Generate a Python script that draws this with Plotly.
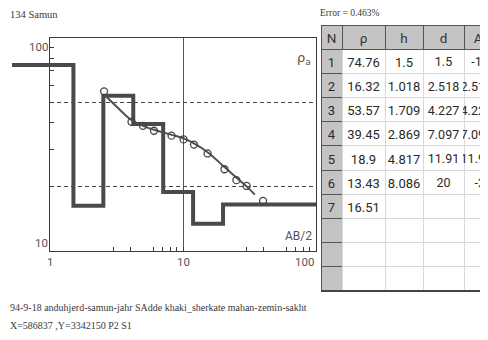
import math
import plotly.graph_objects as go

# ---------------- data ----------------
layer_n = [1, 2, 3, 4, 5, 6, 7]
layer_rho = [74.76, 16.32, 53.57, 39.45, 18.9, 13.43, 16.51]
layer_h = [1.5, 1.018, 1.709, 2.869, 4.817, 8.086]
layer_d = [1.5, 2.518, 4.227, 7.097, 11.91, 20]

obs_ab2 = [2.55, 4.1, 5.0, 6.05, 8.2, 10.1, 12.1, 15.3, 20.5, 25.2, 30.1, 40.0]
obs_rho = [56.2, 40.4, 38.7, 36.7, 34.8, 33.4, 31.6, 28.7, 24.2, 21.5, 20.2, 17.2]

fit_ab2 = [2.59, 3.25, 4.06, 5.0, 6.05, 8.12, 10.2, 12.1, 15.4, 20.6, 25.4, 30.3, 34.7]
fit_rho = [53.9, 46.9, 41.3, 38.7, 37.1, 35.2, 33.7, 32.0, 29.0, 24.7, 22.0, 20.0, 18.4]

x_labels = ["1", "10", "100"]
y_labels = ["10", "100"]
error_text = "Error = 0.463%"
title_text = "134 Samun"
foot1 = "94-9-18 anduhjerd-samun-jahr SAdde khaki_sherkate mahan-zemin-sakht"
foot2 = "X=586837 ,Y=3342150 P2 S1"

# ---------------- layout helpers ----------------
# the page body adds an 8px offset; the table's last column runs past the window edge
W, H = 492, 332
ML, MR, MT, MB = 4, 0, 17, 49
PW, PH = W - ML - MR, H - MT - MB


def px(x):
    """reference-picture x pixel -> paper fraction"""
    return (x - 8 - ML) / PW


def py(y):
    """reference-picture y pixel -> paper fraction"""
    return (H - MB - (y - 8)) / PH


NUMF = "Roboto, Liberation Sans, sans-serif"
SERIF = "Liberation Serif, Times New Roman, DejaVu Serif, serif"
INK = "#3a3a3a"

main_dom = [px(50), px(316)]
left_dom = [0, px(50)]
y_dom = [py(251), py(38)]

fig = go.Figure()

# step model (main part)
step_x = [1] + layer_d + [100]
step_y = layer_rho + [layer_rho[-1]]
fig.add_trace(go.Scatter(x=step_x, y=step_y, mode="lines", line_shape="hv",
                         line=dict(color="#4a4a4a", width=4), hoverinfo="skip",
                         xaxis="x", yaxis="y", showlegend=False))
# step model first layer extending left of the frame
fig.add_trace(go.Scatter(x=[0.1, 1], y=[layer_rho[0], layer_rho[0]], mode="lines",
                         line=dict(color="#4a4a4a", width=4), hoverinfo="skip",
                         xaxis="x2", yaxis="y2", showlegend=False))
# fitted curve
fig.add_trace(go.Scatter(x=fit_ab2, y=fit_rho, mode="lines", line_shape="spline",
                         line=dict(color="#505050", width=2), hoverinfo="skip",
                         showlegend=False))
# observed points
fig.add_trace(go.Scatter(x=obs_ab2, y=obs_rho, mode="markers",
                         marker=dict(symbol="circle-open", size=7,
                                     color="#444", line=dict(width=1.3)),
                         showlegend=False))

minor_x = [3, 4, 6, 7, 8, 9, 30, 40, 60, 70, 80, 90]
fig.update_layout(
    width=W, height=H,
    margin=dict(l=ML, r=MR, t=MT, b=MB, pad=0),
    paper_bgcolor="white", plot_bgcolor="white",
    showlegend=False,
    xaxis=dict(type="log", range=[0, 2], domain=main_dom, anchor="y",
               tickvals=[1, 10, 100], showticklabels=False,
               ticks="inside", ticklen=4, tickcolor=INK,
               showgrid=True, gridcolor="#555", gridwidth=1,
               showline=True, linecolor=INK, linewidth=1, mirror=True,
               zeroline=False,
               minor=dict(tickvals=minor_x, ticks="inside", ticklen=4,
                          tickcolor=INK, showgrid=False)),
    xaxis3=dict(type="log", range=[0, 2], domain=main_dom, anchor="y",
                overlaying="x", side="bottom",
                tickvals=[2, 5, 20, 50], showticklabels=False,
                ticks="inside", ticklen=7, tickcolor=INK,
                showgrid=True, gridcolor="#444", gridwidth=1, griddash="4px,3px",
                showline=False, zeroline=False),
    yaxis=dict(type="log", range=[1, 2], domain=y_dom, anchor="x",
               tickvals=[20, 50], showticklabels=False,
               ticks="inside", ticklen=4, tickcolor=INK,
               showgrid=True, gridcolor="#444", gridwidth=1, griddash="4px,3px",
               showline=True, linecolor=INK, linewidth=1, mirror=True,
               zeroline=False,
               minor=dict(tickvals=[30, 40, 60, 70, 80, 90], ticks="inside",
                          ticklen=4, tickcolor=INK, showgrid=False)),
    xaxis2=dict(type="log", range=[-(50 - 12) / 133.0, 0], domain=left_dom,
                anchor="y2", visible=False),
    yaxis2=dict(type="log", range=[1, 2], domain=y_dom, anchor="x2",
                visible=False),
)

ann = []
ann.append(dict(text=title_text, x=px(8), y=py(15), xref="paper", yref="paper",
                xanchor="left", yanchor="middle", showarrow=False,
                font=dict(family=SERIF, size=10.5, color=INK)))
ann.append(dict(text=error_text, x=px(318), y=py(13), xref="paper", yref="paper",
                xanchor="left", yanchor="middle", showarrow=False,
                font=dict(family=SERIF, size=9.5, color=INK)))
ann.append(dict(text="ρ<sub>a</sub>", x=px(313), y=py(58), xref="paper", yref="paper",
                xanchor="right", yanchor="middle", showarrow=False,
                font=dict(family="DejaVu Sans, sans-serif", size=13, color="#555")))
ann.append(dict(text="AB/2", x=px(314), y=py(236), xref="paper", yref="paper",
                xanchor="right", yanchor="middle", showarrow=False,
                font=dict(family=NUMF, size=12, color="#555")))
# y tick labels
ann.append(dict(text=y_labels[1], x=px(50), y=py(47), xref="paper", yref="paper",
                xanchor="right", yanchor="middle", showarrow=False,
                font=dict(family=NUMF, size=11.5, color="#555")))
ann.append(dict(text=y_labels[0], x=px(50), y=py(243), xref="paper", yref="paper",
                xanchor="right", yanchor="middle", showarrow=False,
                font=dict(family=NUMF, size=11.5, color="#555")))
# x tick labels
for lab, anchor in zip(x_labels, ["center", "center", "right"]):
    ann.append(dict(text=lab, x=math.log10(float(lab)), y=py(262), xref="x", yref="paper",
                    xanchor=anchor, yanchor="middle", showarrow=False,
                    font=dict(family=NUMF, size=11.5, color="#555")))
ann.append(dict(text=foot1, x=px(8), y=py(307), xref="paper", yref="paper",
                xanchor="left", yanchor="middle", showarrow=False,
                font=dict(family=SERIF, size=10, color=INK)))
ann.append(dict(text=foot2, x=px(8), y=py(325), xref="paper", yref="paper",
                xanchor="left", yanchor="middle", showarrow=False,
                font=dict(family=SERIF, size=10, color=INK)))
fig.update_layout(annotations=ann)

# bottom border of the table
fig.add_shape(type="line", xref="paper", yref="paper", x0=px(321), x1=1,
              y0=py(291), y1=py(291), line=dict(color="#444", width=2))

# ---------------- table ----------------
n_rows = 10
col_n = [str(v) for v in layer_n] + [" "] * (n_rows - len(layer_n))
col_rho = [f"{v:g}" for v in layer_rho] + [" "] * (n_rows - len(layer_rho))
col_h = [f"{v:g}" for v in layer_h] + [" "] * (n_rows - len(layer_h))
col_d = [f"{v:g}" for v in layer_d] + [" "] * (n_rows - len(layer_d))
col_alt = [f"{-v:g}" for v in layer_d] + [" "] * (n_rows - len(layer_d))

GRAY = "#c4c4c4"
fig.add_trace(go.Table(
    domain=dict(x=[px(321), 1], y=[0, 1]),
    columnwidth=[21, 43, 38, 41, 36],
    header=dict(values=["N", "ρ", "h", "d", "Alt"], fill_color=GRAY,
                line=dict(color="#555", width=1), height=24,
                align=["center", "center", "center", "center", "center"],
                font=dict(family=NUMF, size=13.5, color="#333")),
    cells=dict(values=[col_n, col_rho, col_h, col_d, col_alt],
               fill_color=[[GRAY] * n_rows] + [["white"] * n_rows] * 4,
               line=dict(color=["#555", "#d8d8d8", "#d8d8d8", "#d8d8d8", "#d8d8d8"], width=1),
               height=24.2, align=["center", "center", "center", "center", "right"],
               font=dict(family=NUMF, size=[13, 13, 13, 12.5, 12.5], color="#2a2a2a")),
))

fig.write_html("out.html")
